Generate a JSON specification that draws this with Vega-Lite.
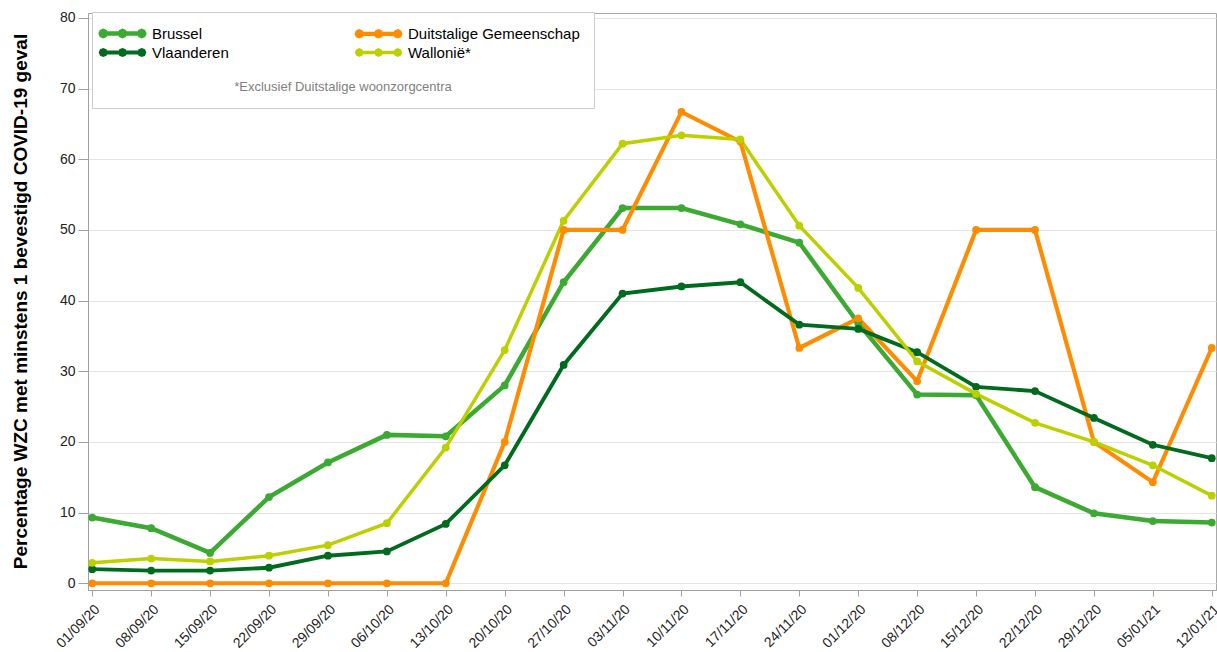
{
  "$schema": "https://vega.github.io/schema/vega-lite/v6.json",
  "width": 1128,
  "height": 577,
  "autosize": {"type": "none"},
  "padding": {"left": 88, "top": 13, "right": 1, "bottom": 62},
  "background": "white",
  "config": {
    "font": "Liberation Sans",
    "view": {"stroke": "#a8a8a8", "strokeWidth": 1},
    "axis": {
      "domainColor": "#a0a0a0",
      "tickColor": "#a0a0a0",
      "gridColor": "#e4e4e4",
      "labelColor": "#222222",
      "labelFont": "Liberation Sans"
    }
  },
  "data": {
    "values": [
      {"datum": "01/09/20", "regio": "Brussel", "pct": 9.3},
      {"datum": "08/09/20", "regio": "Brussel", "pct": 7.8},
      {"datum": "15/09/20", "regio": "Brussel", "pct": 4.3},
      {"datum": "22/09/20", "regio": "Brussel", "pct": 12.2},
      {"datum": "29/09/20", "regio": "Brussel", "pct": 17.1},
      {"datum": "06/10/20", "regio": "Brussel", "pct": 21.0},
      {"datum": "13/10/20", "regio": "Brussel", "pct": 20.8},
      {"datum": "20/10/20", "regio": "Brussel", "pct": 28.0},
      {"datum": "27/10/20", "regio": "Brussel", "pct": 42.6},
      {"datum": "03/11/20", "regio": "Brussel", "pct": 53.1},
      {"datum": "10/11/20", "regio": "Brussel", "pct": 53.1},
      {"datum": "17/11/20", "regio": "Brussel", "pct": 50.8},
      {"datum": "24/11/20", "regio": "Brussel", "pct": 48.2},
      {"datum": "01/12/20", "regio": "Brussel", "pct": 36.8},
      {"datum": "08/12/20", "regio": "Brussel", "pct": 26.7},
      {"datum": "15/12/20", "regio": "Brussel", "pct": 26.6},
      {"datum": "22/12/20", "regio": "Brussel", "pct": 13.6},
      {"datum": "29/12/20", "regio": "Brussel", "pct": 9.9},
      {"datum": "05/01/21", "regio": "Brussel", "pct": 8.8},
      {"datum": "12/01/21", "regio": "Brussel", "pct": 8.6},
      {"datum": "01/09/20", "regio": "Duitstalige Gemeenschap", "pct": 0},
      {"datum": "08/09/20", "regio": "Duitstalige Gemeenschap", "pct": 0},
      {"datum": "15/09/20", "regio": "Duitstalige Gemeenschap", "pct": 0},
      {"datum": "22/09/20", "regio": "Duitstalige Gemeenschap", "pct": 0},
      {"datum": "29/09/20", "regio": "Duitstalige Gemeenschap", "pct": 0},
      {"datum": "06/10/20", "regio": "Duitstalige Gemeenschap", "pct": 0},
      {"datum": "13/10/20", "regio": "Duitstalige Gemeenschap", "pct": 0},
      {"datum": "20/10/20", "regio": "Duitstalige Gemeenschap", "pct": 20.0},
      {"datum": "27/10/20", "regio": "Duitstalige Gemeenschap", "pct": 50.0},
      {"datum": "03/11/20", "regio": "Duitstalige Gemeenschap", "pct": 50.0},
      {"datum": "10/11/20", "regio": "Duitstalige Gemeenschap", "pct": 66.7},
      {"datum": "17/11/20", "regio": "Duitstalige Gemeenschap", "pct": 62.5},
      {"datum": "24/11/20", "regio": "Duitstalige Gemeenschap", "pct": 33.3},
      {"datum": "01/12/20", "regio": "Duitstalige Gemeenschap", "pct": 37.5},
      {"datum": "08/12/20", "regio": "Duitstalige Gemeenschap", "pct": 28.6},
      {"datum": "15/12/20", "regio": "Duitstalige Gemeenschap", "pct": 50.0},
      {"datum": "22/12/20", "regio": "Duitstalige Gemeenschap", "pct": 50.0},
      {"datum": "29/12/20", "regio": "Duitstalige Gemeenschap", "pct": 20.0},
      {"datum": "05/01/21", "regio": "Duitstalige Gemeenschap", "pct": 14.3},
      {"datum": "12/01/21", "regio": "Duitstalige Gemeenschap", "pct": 33.3},
      {"datum": "01/09/20", "regio": "Vlaanderen", "pct": 2.0},
      {"datum": "08/09/20", "regio": "Vlaanderen", "pct": 1.8},
      {"datum": "15/09/20", "regio": "Vlaanderen", "pct": 1.8},
      {"datum": "22/09/20", "regio": "Vlaanderen", "pct": 2.2},
      {"datum": "29/09/20", "regio": "Vlaanderen", "pct": 3.9},
      {"datum": "06/10/20", "regio": "Vlaanderen", "pct": 4.5},
      {"datum": "13/10/20", "regio": "Vlaanderen", "pct": 8.4},
      {"datum": "20/10/20", "regio": "Vlaanderen", "pct": 16.7},
      {"datum": "27/10/20", "regio": "Vlaanderen", "pct": 30.9},
      {"datum": "03/11/20", "regio": "Vlaanderen", "pct": 41.0},
      {"datum": "10/11/20", "regio": "Vlaanderen", "pct": 42.0},
      {"datum": "17/11/20", "regio": "Vlaanderen", "pct": 42.6},
      {"datum": "24/11/20", "regio": "Vlaanderen", "pct": 36.6},
      {"datum": "01/12/20", "regio": "Vlaanderen", "pct": 36.0},
      {"datum": "08/12/20", "regio": "Vlaanderen", "pct": 32.7},
      {"datum": "15/12/20", "regio": "Vlaanderen", "pct": 27.8},
      {"datum": "22/12/20", "regio": "Vlaanderen", "pct": 27.2},
      {"datum": "29/12/20", "regio": "Vlaanderen", "pct": 23.4},
      {"datum": "05/01/21", "regio": "Vlaanderen", "pct": 19.6},
      {"datum": "12/01/21", "regio": "Vlaanderen", "pct": 17.7},
      {"datum": "01/09/20", "regio": "Wallonië*", "pct": 2.9},
      {"datum": "08/09/20", "regio": "Wallonië*", "pct": 3.5},
      {"datum": "15/09/20", "regio": "Wallonië*", "pct": 3.1},
      {"datum": "22/09/20", "regio": "Wallonië*", "pct": 3.9},
      {"datum": "29/09/20", "regio": "Wallonië*", "pct": 5.4},
      {"datum": "06/10/20", "regio": "Wallonië*", "pct": 8.5},
      {"datum": "13/10/20", "regio": "Wallonië*", "pct": 19.2},
      {"datum": "20/10/20", "regio": "Wallonië*", "pct": 33.0},
      {"datum": "27/10/20", "regio": "Wallonië*", "pct": 51.3},
      {"datum": "03/11/20", "regio": "Wallonië*", "pct": 62.2},
      {"datum": "10/11/20", "regio": "Wallonië*", "pct": 63.4},
      {"datum": "17/11/20", "regio": "Wallonië*", "pct": 62.8},
      {"datum": "24/11/20", "regio": "Wallonië*", "pct": 50.6},
      {"datum": "01/12/20", "regio": "Wallonië*", "pct": 41.8},
      {"datum": "08/12/20", "regio": "Wallonië*", "pct": 31.4},
      {"datum": "15/12/20", "regio": "Wallonië*", "pct": 26.8},
      {"datum": "22/12/20", "regio": "Wallonië*", "pct": 22.7},
      {"datum": "29/12/20", "regio": "Wallonië*", "pct": 20.0},
      {"datum": "05/01/21", "regio": "Wallonië*", "pct": 16.7},
      {"datum": "12/01/21", "regio": "Wallonië*", "pct": 12.4}
    ]
  },
  "mark": {"type": "line", "point": {"filled": true, "size": 60, "opacity": 1}},
  "encoding": {
    "x": {
      "field": "datum",
      "type": "ordinal",
      "sort": null,
      "scale": {"type": "point", "padding": 0.072},
      "axis": {
        "title": null,
        "labelAngle": -45,
        "labelFontSize": 14,
        "tickSize": 6,
        "grid": false,
        "labelPadding": 6
      }
    },
    "y": {
      "field": "pct",
      "type": "quantitative",
      "scale": {"domain": [-0.95, 80.7], "nice": false, "zero": false},
      "axis": {
        "values": [0, 10, 20, 30, 40, 50, 60, 70, 80],
        "title": "Percentage WZC met minstens 1 bevestigd COVID-19 geval",
        "titleFontSize": 19,
        "titleFontWeight": "bold",
        "titleColor": "#000000",
        "titleX": -68,
        "titleY": 288,
        "titleAngle": -90,
        "titleAlign": "center",
        "titleBaseline": "middle",
        "labelFontSize": 14,
        "tickSize": 10,
        "labelPadding": 3,
        "domain": true
      }
    },
    "color": {
      "field": "regio",
      "type": "nominal",
      "scale": {
        "domain": ["Brussel", "Duitstalige Gemeenschap", "Vlaanderen", "Wallonië*"],
        "range": ["#3caa32", "#ff8c00", "#006b1e", "#bcd000"]
      },
      "legend": {
        "orient": "none",
        "direction": "horizontal",
        "legendX": 4,
        "legendY": -1,
        "columns": 2,
        "columnPadding": 119,
        "rowPadding": -5,
        "padding": 14,
        "strokeColor": "#cccccc",
        "fillColor": "white",
        "labelFontSize": 15,
        "labelColor": "#000000",
        "labelOffset": 22,
        "labelLimit": 400,
        "symbolType": "M-4.3,0H4.3M-3.35,0L-3.5,0.35L-3.85,0.5L-4.2,0.35L-4.35,0L-4.2,-0.35L-3.85,-0.5L-3.5,-0.35ZM0.5,0L0.35,0.35L0,0.5L-0.35,0.35L-0.5,0L-0.35,-0.35L0,-0.5L0.35,-0.35ZM4.35,0L4.2,0.35L3.85,0.5L3.5,0.35L3.35,0L3.5,-0.35L3.85,-0.5L4.2,-0.35Z",
        "symbolSize": 100,
        "symbolOffset": 9,
        "symbolStrokeWidth": 3.5,
        "title": "*Exclusief Duitstalige woonzorgcentra",
        "titleOrient": "bottom",
        "titleAnchor": "middle",
        "titleFontSize": 13,
        "titleFontWeight": "normal",
        "titleColor": "#808080",
        "titlePadding": 18,
        "titleLimit": 600,
        "encode": {
          "symbols": {"update": {"fill": {"scale": "color", "field": "value"}}}
        }
      }
    },
    "strokeWidth": {
      "field": "regio",
      "type": "nominal",
      "scale": {
        "domain": ["Brussel", "Duitstalige Gemeenschap", "Vlaanderen", "Wallonië*"],
        "range": [4.5, 3.5, 4.5, 4.5]
      },
      "legend": null
    }
  }
}
